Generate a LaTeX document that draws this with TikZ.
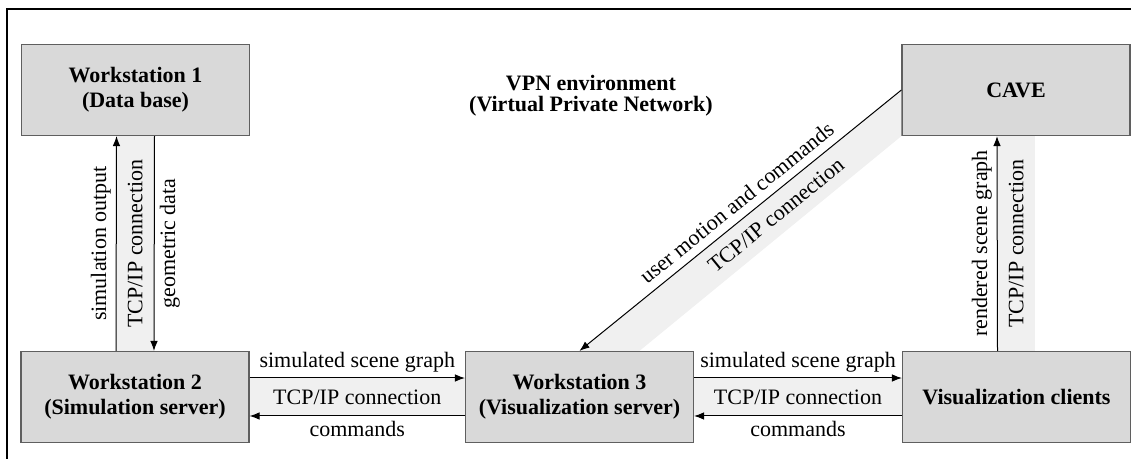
\documentclass[tikz,border=0pt]{standalone}
\usepackage{fontspec}
\setmainfont{Liberation Serif}
\usepackage{tikz}
\usetikzlibrary{arrows.meta,calc}
\definecolor{fond}{RGB}{217,217,217}
\definecolor{bande}{RGB}{240,240,240}
\definecolor{bord}{RGB}{95,95,95}

\tikzset{
  station/.style={draw=bord,fill=fond,line width=0.6pt,minimum width=114pt,minimum height=45.5pt,
    align=center,font=\fontsize{11}{12.5}\selectfont\bfseries,inner sep=2pt},
  fleche/.style={-{Latex[length=5pt,width=3.8pt]},line width=0.5pt},
  lien/.style={inner sep=2.5pt}
}

\begin{document}
\begin{tikzpicture}[x=0.5pt,y=-0.5pt,font=\fontsize{11}{12.5}\selectfont]
  \useasboundingbox (0,0) rectangle (1131,459);
  \draw[line width=0.8pt] (7,459) |- (1131,9);

  % postes
  \node[station] (ws1) at (135.5,90) {Workstation 1\\(Data base)};
  \node[station] (cave) at (1016,90) {CAVE};
  \node[station] (ws2) at (135,397) {Workstation 2\\(Simulation server)};
  \node[station] (ws3) at (579.5,397) {Workstation 3\\(Visualization server)};
  \node[station] (clients) at (1016.5,397) {Visualization clients};
  \node[font=\fontsize{11}{10.5}\selectfont\bfseries,align=center] (vpn) at (591,96)
    {VPN environment\\(Virtual Private Network)};

  % bandes TCP/IP
  \fill[bande] ($(ws1.south)+(-19,0)$) rectangle ($(ws2.north)+(19,0)$);
  \fill[bande] ($(ws2.east)+(0,-19)$) rectangle ($(ws3.west)+(0,19)$);
  \fill[bande] ($(ws3.east)+(0,-19)$) rectangle ($(clients.west)+(0,19)$);
  \fill[bande] ($(clients.north)+(-19,0)$) rectangle ($(cave.south)+(19,0)$);
  \coordinate (bout) at ($(ws3.north)+(60,0)$);
  \fill[bande] (cave.west) -- (ws3.north) -- (bout) -- (cave.south west) -- cycle;

  % liaisons
  \draw[fleche] ($(ws2.north)+(-19,0)$) -- ($(ws1.south)+(-19,0)$)
    node[lien,midway,rotate=90,above]{simulation output};
  \draw[fleche] ($(ws1.south)+(19,0)$) -- ($(ws2.north)+(19,0)$)
    node[lien,midway,rotate=90,below]{geometric data};
  \node[rotate=90] (tcp1) at ($(ws1.south)!0.5!(ws2.north)$) {TCP/IP connection};

  \draw[fleche] ($(ws2.east)+(0,-19)$) -- ($(ws3.west)+(0,-19)$)
    node[lien,midway,above]{simulated scene graph};
  \draw[fleche] ($(ws3.west)+(0,19)$) -- ($(ws2.east)+(0,19)$)
    node[lien,midway,below]{commands};
  \node (tcp2) at ($(ws2.east)!0.5!(ws3.west)$) {TCP/IP connection};

  \draw[fleche] ($(ws3.east)+(0,-19)$) -- ($(clients.west)+(0,-19)$)
    node[lien,midway,above]{simulated scene graph};
  \draw[fleche] ($(clients.west)+(0,19)$) -- ($(ws3.east)+(0,19)$)
    node[lien,midway,below]{commands};
  \node (tcp3) at ($(ws3.east)!0.5!(clients.west)$) {TCP/IP connection};

  \draw[fleche] ($(clients.north)+(-19,0)$) -- ($(cave.south)+(-19,0)$)
    node[lien,midway,rotate=90,above]{rendered scene graph};
  \node[rotate=90] (tcp4) at ($(clients.north)!0.5!(cave.south)$) {TCP/IP connection};

  \draw[fleche] (cave.west) -- (ws3.north)
    node[lien,inner sep=4pt,pos=0.48,sloped,above]{user motion and commands};
  \path ($(cave.west)!0.5!(cave.south west)$) -- ($(ws3.north)!0.5!(bout)$)
    node[pos=0.43,sloped] (tcp5) {TCP/IP connection};
\end{tikzpicture}
\end{document}
